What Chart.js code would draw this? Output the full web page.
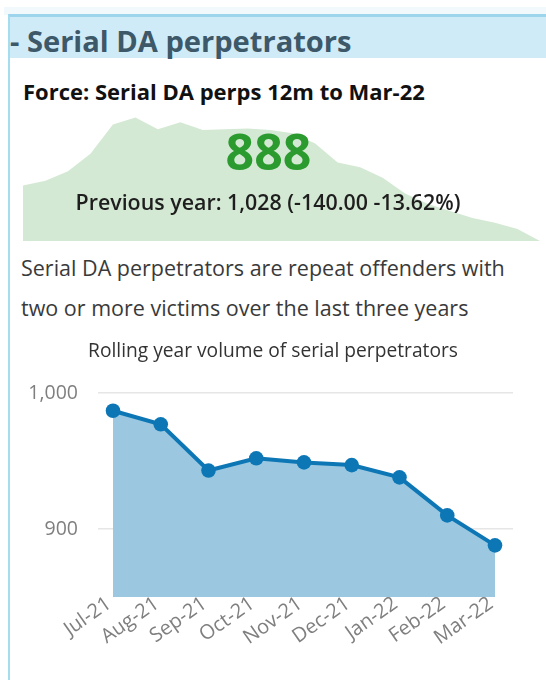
<!DOCTYPE html>
<html>
<head>
<meta charset="utf-8">
<script src="https://cdn.jsdelivr.net/npm/chart.js@4.4.1/dist/chart.umd.min.js"></script>
<style>
  html, body { margin: 0; padding: 0; background: #fff; }
  body { width: 546px; height: 680px; position: relative; overflow: hidden; font-family: 'Open Sans', sans-serif; }
  .abs { position: absolute; white-space: nowrap; line-height: 1; }
  #topband { left: 4px; top: 7px; width: 542px; height: 8px; background: #f2f9fc; }
  #frame { left: 8px; top: 14px; width: 538px; height: 666px; border-left: 2px solid #a6dcf0; border-top: 3px solid #9dd6ec; box-sizing: border-box; }
  #header { left: 10px; top: 17px; width: 536px; height: 41px; background: #cfebf7; }
  #headerText { left: 10px; top: 26.5px; font-size: 29.1px; font-weight: 700; color: #3d5868; }
  #kpiTitle { left: 23px; top: 80px; font-size: 22px; font-weight: 700; color: #111; }
  #kpiValue { left: 0; width: 537px; text-align: center; top: 126px; font-size: 50px; font-weight: 700; color: #2b9a2f; }
  #kpiPrev { left: 0; width: 536px; text-align: center; top: 191px; font-size: 21.4px; font-weight: 600; color: #1e1e1e; }
  .para { left: 21px; font-size: 21.5px; color: #3a3a3a; }
  #spark { left: 23px; top: 100px; }
  #main { left: 0; top: 330px; }
</style>
</head>
<body>
<div id="topband" class="abs"></div>
<div id="frame" class="abs"></div>
<div id="header" class="abs"></div>
<div id="headerText" class="abs">- Serial DA perpetrators</div>
<div id="kpiTitle" class="abs">Force: Serial DA perps 12m to Mar-22</div>
<canvas id="spark" class="abs" width="517" height="141"></canvas>
<div id="kpiValue" class="abs">888</div>
<div id="kpiPrev" class="abs">Previous year: 1,028 (-140.00 -13.62%)</div>
<div class="abs para" style="top:257px">Serial DA perpetrators are repeat offenders with</div>
<div class="abs para" style="top:297px">two or more victims over the last three years</div>
<canvas id="main" class="abs" width="546" height="350"></canvas>
<script>
// sparkline behind the KPI card (rolling year, last 24 months)
const sparkMonths = ['Apr-20', 'May-20', 'Jun-20', 'Jul-20', 'Aug-20', 'Sep-20', 'Oct-20', 'Nov-20',
  'Dec-20', 'Jan-21', 'Feb-21', 'Mar-21', 'Apr-21', 'May-21', 'Jun-21', 'Jul-21', 'Aug-21', 'Sep-21',
  'Oct-21', 'Nov-21', 'Dec-21', 'Jan-22', 'Feb-22', 'Mar-22'];
const sparkValues = [958, 964, 976, 998, 1035, 1044, 1029, 1038, 1028, 1029, 1030, 1028,
  1024, 1011, 987, 981, 968, 948, 935, 926, 917, 911, 903, 888];

// main chart
const months = ['Jul-21', 'Aug-21', 'Sep-21', 'Oct-21', 'Nov-21', 'Dec-21', 'Jan-22', 'Feb-22', 'Mar-22'];
const volumes = [987, 977, 943, 952, 949, 947, 938, 910, 888];
const yTicks = [900, 1000];

const FONT = 'Open Sans';
const LINE = '#0d77b6';

new Chart(document.getElementById('spark'), {
    type: 'line',
    data: {
        labels: sparkMonths,
        datasets: [{
            data: sparkValues,
            fill: 'start',
            backgroundColor: '#d4e9d4',
            borderWidth: 0,
            pointRadius: 0,
            tension: 0
        }]
    },
    options: {
        responsive: false,
        animation: false,
        events: [],
        layout: { padding: 0 },
        plugins: { legend: { display: false }, tooltip: { enabled: false } },
        scales: {
            x: { display: false, offset: false },
            y: { display: false, min: 888, max: 1066 }
        }
    }
});

new Chart(document.getElementById('main'), {
    type: 'line',
    data: {
        datasets: [{
            data: volumes.map((v, i) => ({ x: i, y: v })),
            borderColor: LINE,
            backgroundColor: '#9bc8e0',
            fill: 'start',
            borderWidth: 4,
            tension: 0,
            pointRadius: 7.3,
            pointBackgroundColor: LINE,
            pointBorderWidth: 0
        }]
    },
    options: {
        responsive: false,
        animation: false,
        events: [],
        layout: { padding: 0 },
        plugins: {
            legend: { display: false },
            tooltip: { enabled: false },
            title: {
                display: true,
                text: 'Rolling year volume of serial perpetrators',
                color: '#333',
                font: { family: FONT, size: 19.2, weight: 'normal' },
                padding: { top: 10, bottom: 30 }
            }
        },
        scales: {
            x: {
                type: 'linear',
                min: -0.314,
                max: 8.377,
                afterBuildTicks: s => { s.ticks = months.map((m, i) => ({ value: i })); },
                afterFit: s => { s.height = 83; },
                grid: { display: false, drawTicks: false },
                border: { display: false },
                ticks: {
                    callback: v => months[v],
                    autoSkip: false,
                    minRotation: 35,
                    maxRotation: 35,
                    padding: -5,
                    labelOffset: -4,
                    color: '#7f7f7f',
                    font: { family: FONT, size: 20 }
                }
            },
            y: {
                position: 'left',
                min: 850,
                max: 1000,
                afterBuildTicks: s => { s.ticks = yTicks.map(v => ({ value: v })); },
                afterFit: s => { s.width = 98; },
                grid: { color: '#e6e6e6', lineWidth: 1.5, drawTicks: false },
                border: { display: false },
                ticks: {
                    callback: v => v.toLocaleString('en-US'),
                    padding: 20,
                    color: '#7f7f7f',
                    font: { family: FONT, size: 19.5 }
                }
            },
            // empty right-hand gutter so the plot ends where the reference does
            yRight: {
                position: 'right',
                afterFit: s => { s.width = 33; },
                grid: { display: false },
                border: { display: false },
                ticks: { display: false }
            }
        }
    }
});
</script>
</body>
</html>
